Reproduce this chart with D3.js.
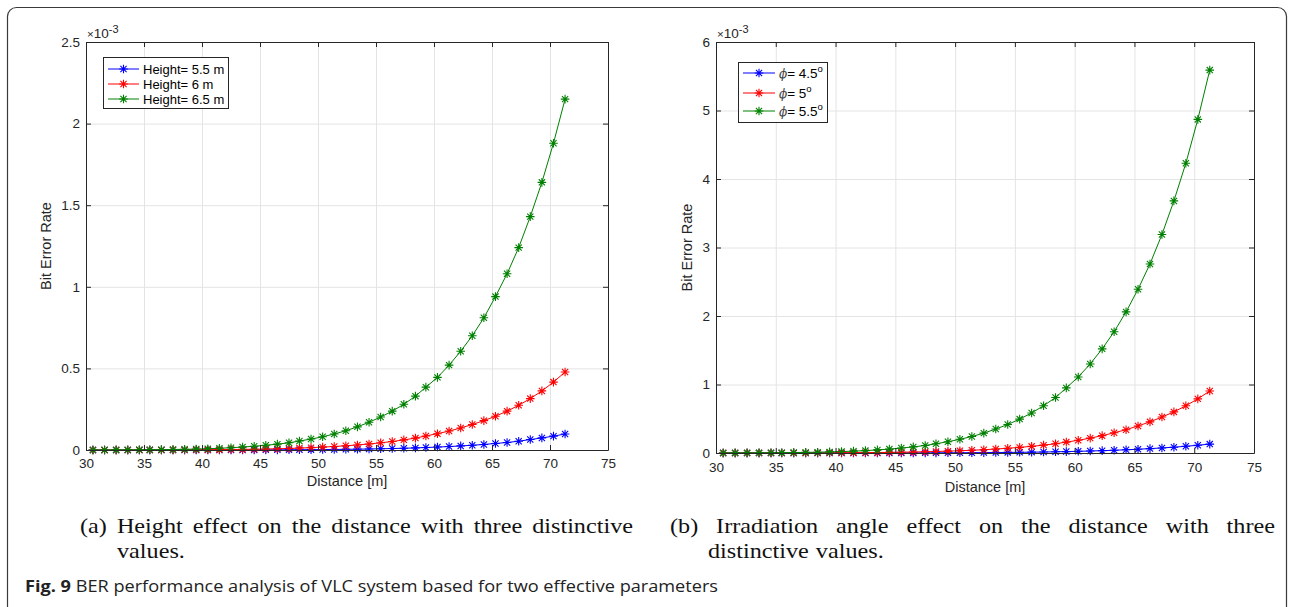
<!DOCTYPE html>
<html><head><meta charset="utf-8">
<script src="https://cdn.jsdelivr.net/npm/d3@7"></script>
<style>body{margin:0;background:#fff}svg{display:block}</style>
</head><body><svg id="c" width="1294" height="607"></svg>
<script>
// ---------- data ----------
const distance = [30.6,31.6,32.6,33.6,34.6,35.5,36.5,37.5,38.5,39.5,40.5,41.5,42.5,43.5,44.5,45.5,46.5,47.5,48.4,49.4,50.4,51.4,52.4,53.4,54.4,55.4,56.4,57.4,58.4,59.3,60.3,61.3,62.3,63.3,64.3,65.3,66.3,67.3,68.3,69.3,70.3,71.3];
const xTicks = [30,35,40,45,50,55,60,65,70,75];

// panel (a): BER ×10^-3 for three LED heights
const heightLabels = ["Height= 5.5 m","Height= 6 m","Height= 6.5 m"];
const berH55 = [0.00001,0.00001,0.00001,0.00001,0.00002,0.00003,0.00004,0.00006,0.00009,0.00013,0.00018,0.00025,0.00034,0.00045,0.0006,0.00078,0.001,0.0013,0.0017,0.0022,0.0027,0.0034,0.0042,0.0051,0.0062,0.0075,0.009,0.0108,0.0128,0.0152,0.018,0.021,0.025,0.029,0.034,0.04,0.046,0.054,0.064,0.074,0.085,0.098];
const berH60 = [0.00005,0.00007,0.00011,0.00016,0.00023,0.00033,0.00047,0.00065,0.0009,0.0012,0.0016,0.0021,0.0028,0.0036,0.0047,0.006,0.0076,0.0095,0.0118,0.0145,0.0177,0.0215,0.026,0.031,0.037,0.044,0.052,0.062,0.073,0.086,0.1,0.116,0.135,0.156,0.18,0.207,0.238,0.274,0.315,0.362,0.416,0.478];
const berH65 = [0.0003,0.0004,0.0006,0.0008,0.0012,0.0017,0.0023,0.0032,0.0043,0.0058,0.0078,0.0105,0.014,0.018,0.023,0.029,0.036,0.044,0.055,0.067,0.081,0.098,0.118,0.142,0.17,0.202,0.238,0.28,0.33,0.385,0.445,0.52,0.605,0.70,0.81,0.94,1.08,1.24,1.43,1.64,1.88,2.15];
const yTicksA = [0,0.5,1,1.5,2,2.5];

// panel (b): BER ×10^-3 for three irradiation angles
const angleValues = ["4.5","5","5.5"];
const berP45 = [0.00001,0.00001,0.00002,0.00003,0.00004,0.00005,0.00007,0.0001,0.00015,0.0002,0.0003,0.0004,0.0005,0.0007,0.0009,0.0012,0.0016,0.002,0.0025,0.0031,0.0038,0.0047,0.0058,0.007,0.0085,0.0102,0.0122,0.0146,0.0174,0.0207,0.0245,0.029,0.034,0.040,0.047,0.055,0.064,0.074,0.085,0.098,0.113,0.13];
const berP50 = [0.00015,0.0002,0.0003,0.0004,0.0006,0.0008,0.0011,0.0015,0.002,0.0027,0.0035,0.0045,0.0058,0.0074,0.0093,0.0117,0.0145,0.018,0.022,0.027,0.033,0.040,0.048,0.058,0.069,0.082,0.097,0.115,0.135,0.159,0.186,0.217,0.253,0.295,0.34,0.395,0.455,0.525,0.60,0.69,0.79,0.905];
const berP55 = [0.0008,0.0012,0.0017,0.0024,0.0034,0.0047,0.0065,0.009,0.012,0.016,0.021,0.027,0.035,0.045,0.057,0.072,0.089,0.11,0.135,0.165,0.20,0.24,0.29,0.35,0.415,0.495,0.585,0.69,0.81,0.95,1.11,1.30,1.52,1.77,2.06,2.39,2.76,3.19,3.68,4.23,4.87,5.59];
const yTicksB = [0,1,2,3,4,5,6];

const colors = ["#0000ff","#ff0000","#008000"];

// ---------- drawing ----------
const svg = d3.select("#c");
svg.append("rect").attr("width",1294).attr("height",607).attr("fill","#fff");
svg.append("rect").attr("x",7.5).attr("y",7.5).attr("width",1279).attr("height",630)
  .attr("rx",9).attr("fill","none").attr("stroke","#3a3a3a").attr("stroke-width",1.2);

const SANS = "Liberation Sans, Arial, Helvetica, sans-serif";
const AX = "#262626";

function starPath(r){
  const d = r*0.72;
  return `M${-r},0H${r}M0,${-r}V${r}M${-d},${-d}L${d},${d}M${-d},${d}L${d},${-d}`;
}

function panel(cfg){
  const g = svg.append("g");
  const x = d3.scaleLinear().domain([30,75]).range([cfg.l,cfg.r]);
  const y = d3.scaleLinear().domain([0,cfg.yMax]).range([cfg.b,cfg.t]);
  const H = cfg.b-cfg.t, W = cfg.r-cfg.l;

  // grid
  g.append("g").attr("transform",`translate(0,${cfg.b})`)
    .call(d3.axisBottom(x).tickValues(xTicks).tickSize(-H).tickFormat(""))
    .call(s=>{s.select(".domain").remove();s.selectAll("line").attr("stroke","#e4e4e4").attr("stroke-width",1);});
  g.append("g").attr("transform",`translate(${cfg.l},0)`)
    .call(d3.axisLeft(y).tickValues(cfg.yTicks).tickSize(-W).tickFormat(""))
    .call(s=>{s.select(".domain").remove();s.selectAll("line").attr("stroke","#e4e4e4").attr("stroke-width",1);});

  // series
  const line = d3.line().x((d,i)=>x(distance[i])).y(d=>y(d));
  cfg.series.forEach((vals,k)=>{
    g.append("path").datum(vals).attr("d",line).attr("fill","none")
      .attr("stroke",colors[k]).attr("stroke-width",1);
    g.append("g").selectAll("path").data(vals).join("path")
      .attr("transform",(d,i)=>`translate(${x(distance[i])},${y(d)})`)
      .attr("d",starPath(4.3)).attr("fill","none").attr("stroke",colors[k]).attr("stroke-width",1.1);
  });

  // axes (ticks inward, box on)
  const style = s=>{
    s.select(".domain").attr("stroke",AX).attr("stroke-width",1);
    s.selectAll(".tick line").attr("stroke",AX);
    s.selectAll("text").attr("fill",AX).attr("font-family",SANS).attr("font-size",cfg.fs);
  };
  g.append("g").attr("transform",`translate(0,${cfg.b})`)
    .call(d3.axisBottom(x).tickValues(xTicks).tickSizeInner(-5).tickSizeOuter(0).tickPadding(cfg.xPad)).call(style);
  g.append("g").attr("transform",`translate(0,${cfg.t})`)
    .call(d3.axisTop(x).tickValues(xTicks).tickSizeInner(-5).tickSizeOuter(0).tickFormat("")).call(style);
  g.append("g").attr("transform",`translate(${cfg.l},0)`)
    .call(d3.axisLeft(y).tickValues(cfg.yTicks).tickSizeInner(-5).tickSizeOuter(0).tickPadding(6).tickFormat(d3.format("~g"))).call(style);
  g.append("g").attr("transform",`translate(${cfg.r},0)`)
    .call(d3.axisRight(y).tickValues(cfg.yTicks).tickSizeInner(-5).tickSizeOuter(0).tickFormat("")).call(style);

  // exponent
  const ex = g.append("text").attr("x",cfg.l+1).attr("y",cfg.t-4)
    .attr("font-family",SANS).attr("font-size",cfg.fs).attr("fill",AX);
  ex.append("tspan").attr("font-size",cfg.fs-2).text("×");
  ex.append("tspan").text("10");
  ex.append("tspan").attr("dy",-5).attr("font-size",cfg.fs-2.5).text("-3");

  // axis labels
  g.append("text").attr("x",(cfg.l+cfg.r)/2).attr("y",cfg.xLabY).attr("text-anchor","middle")
    .attr("font-family",SANS).attr("font-size",cfg.fs+1).attr("fill",AX).text("Distance [m]");
  g.append("text").attr("transform",`translate(${cfg.yLabX},${(cfg.t+cfg.b)/2}) rotate(-90)`)
    .attr("text-anchor","middle").attr("font-family",SANS).attr("font-size",cfg.fs+1).attr("fill",AX).text("Bit Error Rate");

  // legend
  const L = cfg.leg;
  g.append("rect").attr("x",L.x+0.5).attr("y",L.y+0.5).attr("width",L.w).attr("height",L.h)
    .attr("fill","#fff").attr("stroke",AX).attr("stroke-width",1);
  L.rows.forEach((ry,k)=>{
    g.append("line").attr("x1",L.x+L.l0).attr("x2",L.x+L.l1).attr("y1",L.y+ry).attr("y2",L.y+ry)
      .attr("stroke",colors[k]).attr("stroke-width",1);
    g.append("path").attr("transform",`translate(${L.x+(L.l0+L.l1)/2},${L.y+ry})`)
      .attr("d",starPath(4.3)).attr("fill","none").attr("stroke",colors[k]).attr("stroke-width",1.1);
    const t = g.append("text").attr("x",L.x+L.tx).attr("y",L.y+ry+4.5)
      .attr("font-family",SANS).attr("font-size",L.fs).attr("fill","#000");
    cfg.label(t,k);
  });
}

panel({
  l:86,r:608,t:42,b:450,yMax:2.5,yTicks:yTicksA,fs:13.5,xPad:8,xLabY:486,yLabX:51,
  series:[berH55,berH60,berH65],
  leg:{x:103,y:57,w:125,h:51,l0:5,l1:36,tx:40,fs:13,rows:[12,27,42]},
  label:(t,k)=>t.text(heightLabels[k])
});
panel({
  l:716,r:1254,t:42,b:453,yMax:6,yTicks:yTicksB,fs:13.5,xPad:9,xLabY:492,yLabX:692,
  series:[berP45,berP50,berP55],
  leg:{x:738,y:62,w:89,h:60,l0:5,l1:37,tx:41,fs:13.5,rows:[11,31,49]},
  label:(t,k)=>{
    t.append("tspan").attr("font-family","DejaVu Serif, serif").attr("font-style","italic").attr("font-size",12).attr("fill","#444").text("ϕ");
    t.append("tspan").text("= "+angleValues[k]);
    t.append("tspan").attr("dy",-5.5).attr("font-size",9.5).text("o");
  }
});

// ---------- captions ----------
const SERIF = "Liberation Serif, DejaVu Serif, serif";
const STRETCH = 1.1;
function justifiedLine(words,x0,x1,y,fs){
  const nodes = words.map(w=>svg.append("text").attr("y",y).attr("font-family",SERIF)
    .attr("font-size",fs).attr("fill","#111").text(w));
  const widths = nodes.map(n=>n.node().getComputedTextLength()*STRETCH);
  nodes.forEach((n,i)=>n.attr("textLength",widths[i]).attr("lengthAdjust","spacingAndGlyphs"));
  const total = d3.sum(widths);
  const gap = (x1-x0-total)/(words.length-1);
  let cx = x0;
  nodes.forEach((n,i)=>{n.attr("x",cx);cx+=widths[i]+gap;});
}
function plainLine(words,x0,y,fs){
  justifiedLine(words,x0,null,y,fs);
}
function leftLine(words,x0,y,fs,gap){
  let cx = x0;
  words.forEach(w=>{
    const n = svg.append("text").attr("y",y).attr("x",cx).attr("font-family",SERIF)
      .attr("font-size",fs).attr("fill","#111").text(w);
    const wd = n.node().getComputedTextLength()*STRETCH;
    n.attr("textLength",wd).attr("lengthAdjust","spacingAndGlyphs");
    cx += wd + gap;
  });
}
justifiedLine("(a) Height effect on the distance with three distinctive".split(" "),80,633,533,22);
leftLine(["values."],117,558,22,7);
justifiedLine("(b) Irradiation angle effect on the distance with three".split(" "),670,1275,533,22);
leftLine(["distinctive","values."],708,558,22,7);

const fc = svg.append("text").attr("x",25).attr("y",592).attr("font-family","Open Sans, sans-serif")
  .attr("font-size",16).attr("fill","#222").attr("textLength",693).attr("lengthAdjust","spacingAndGlyphs");
fc.append("tspan").attr("font-weight","bold").text("Fig. 9");
fc.append("tspan").text(" BER performance analysis of VLC system based for two effective parameters");
</script></body></html>
